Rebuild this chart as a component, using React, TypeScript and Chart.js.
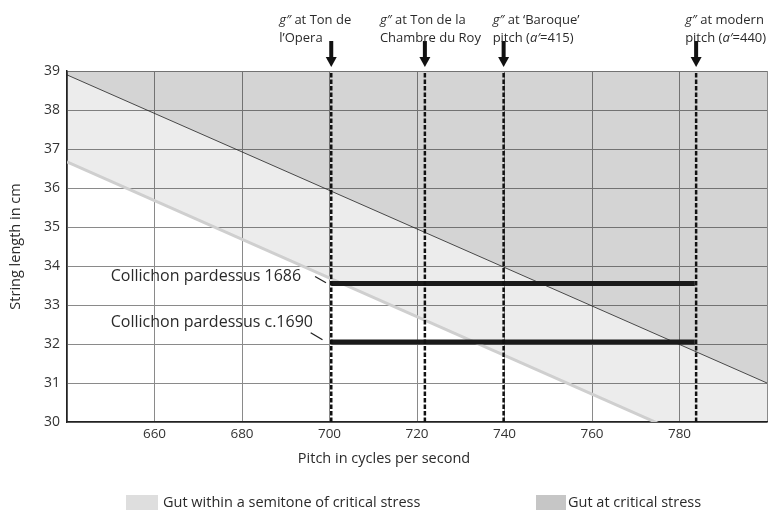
import React, { useEffect, useRef } from "react";
import { Chart, registerables } from "chart.js";

Chart.register(...registerables);

// ---------- data ----------
const xRange = [640, 800];
const yRange = [30, 39];
const xTickValues = [660, 680, 700, 720, 740, 760, 780];
const yTickValues = [30, 31, 32, 33, 34, 35, 36, 37, 38, 39];

// boundary of "gut at critical stress" (string length vs pitch)
const criticalX = [640, 800];
const criticalY = [38.9, 31.0];
// boundary of "within a semitone of critical stress"
const semitoneX = [640, 800];
const semitoneY = [36.67, 28.73];

// reference pitches of g''
const pitchValues = [700.4, 721.8, 739.8, 783.8];
const pitchLabels = [
  ["*g″* at Ton de", "l’Opera"],
  ["*g″* at Ton de la", "Chambre du Roy"],
  ["*g″* at ‘Baroque’", "pitch (*a′*=415)"],
  ["*g″* at modern", "pitch (*a′*=440)"],
];

// instruments
const stringLabels = ["Collichon pardessus 1686", "Collichon pardessus c.1690"];
const stringLengths = [33.55, 32.05];
const stringFrom = [700.4, 700.4];
const stringTo = [783.5, 783.5];
const leaderX = [
  [696.7, 699.2],
  [695.7, 698.4],
];
const leaderY = [
  [33.73, 33.57],
  [32.29, 32.11],
];
const labelAtX = [650, 650];
const labelAtY = [33.72, 32.55];

const legendLabels = ["Gut within a semitone of critical stress", "Gut at critical stress"];

const xTitle = "Pitch in cycles per second";
const yTitle = "String length in cm";

// ---------- styles ----------
const FONT = "'Open Sans', 'Noto Sans', sans-serif";
const TEXT = "#2a2a2a";
const GRID = "#8a8a8a";
const DARK_FILL = "rgba(0,0,0,0.17)";
const LIGHT_FILL = "rgba(0,0,0,0.075)";
const SWATCH_LIGHT = "#dedede";
const SWATCH_DARK = "#c6c6c6";
const annotationOffsets = [-52, -45, -11, -11];

function drawRich(ctx: CanvasRenderingContext2D, text: string, x: number, y: number, size: number) {
  const parts = text.split("*");
  let cx = x;
  parts.forEach((p, i) => {
    if (!p) return;
    ctx.font = `${i % 2 === 1 ? "italic " : ""}${size}px ${FONT}`;
    ctx.fillText(p, cx, y);
    cx += ctx.measureText(p).width;
  });
}

const overlayPlugin = {
  id: "overlay",
  afterDraw(chart: any) {
    const { ctx, chartArea, scales } = chart;
    const xs = scales.x;
    const ys = scales.y;
    ctx.save();
    ctx.fillStyle = "#111";
    // arrows above dashed lines
    pitchValues.forEach((v) => {
      const px = xs.getPixelForValue(v);
      const top = chartArea.top;
      ctx.fillRect(px - 2, top - 30, 4, 17);
      ctx.beginPath();
      ctx.moveTo(px - 5.5, top - 14);
      ctx.lineTo(px + 5.5, top - 14);
      ctx.lineTo(px, top - 4);
      ctx.closePath();
      ctx.fill();
    });
    // annotation labels
    ctx.fillStyle = TEXT;
    ctx.textBaseline = "middle";
    ctx.textAlign = "left";
    pitchLabels.forEach((lines, i) => {
      const px = xs.getPixelForValue(pitchValues[i]) + annotationOffsets[i];
      lines.forEach((ln, j) => drawRich(ctx, ln, px, 20 + j * 18, 13));
    });
    // instrument labels
    stringLabels.forEach((s, i) => {
      ctx.font = `16px ${FONT}`;
      ctx.fillText(s, xs.getPixelForValue(labelAtX[i]), ys.getPixelForValue(labelAtY[i]));
    });
    // axis titles
    ctx.font = `14.5px ${FONT}`;
    ctx.textAlign = "center";
    ctx.fillText(xTitle, 384, 459);
    ctx.save();
    ctx.translate(16, (chartArea.top + chartArea.bottom) / 2);
    ctx.rotate(-Math.PI / 2);
    ctx.fillText(yTitle, 0, 0);
    ctx.restore();
    // legend
    ctx.textAlign = "left";
    ctx.font = `14.5px ${FONT}`;
    ctx.fillStyle = SWATCH_LIGHT;
    ctx.fillRect(126, 495, 32, 15);
    ctx.fillStyle = SWATCH_DARK;
    ctx.fillRect(536, 495, 30, 15);
    ctx.fillStyle = TEXT;
    ctx.fillText(legendLabels[0], 163, 503);
    ctx.fillText(legendLabels[1], 568, 503);
    ctx.restore();
  },
};

export default function App() {
  const ref = useRef<HTMLCanvasElement>(null);
  useEffect(() => {
    if (!ref.current) return;
    const datasets: any[] = [];
    // critical stress line, fill above
    datasets.push({
      data: criticalX.map((x, i) => ({ x, y: criticalY[i] })),
      borderColor: "#222",
      borderWidth: 0.8,
      backgroundColor: DARK_FILL,
      fill: "end",
      pointRadius: 0,
      order: 10,
    });
    // semitone line, fill up to critical line
    datasets.push({
      data: semitoneX.map((x, i) => ({ x, y: semitoneY[i] })),
      borderColor: "#cfcfcf",
      borderWidth: 3,
      backgroundColor: LIGHT_FILL,
      fill: 0,
      pointRadius: 0,
      order: 9,
    });
    // instrument bars
    stringLengths.forEach((len, i) => {
      datasets.push({
        data: [
          { x: stringFrom[i], y: len },
          { x: stringTo[i], y: len },
        ],
        borderColor: "#1a1a1a",
        borderWidth: 5,
        borderCapStyle: "butt",
        pointRadius: 0,
        fill: false,
        order: 2,
      });
      datasets.push({
        data: leaderX[i].map((x, k) => ({ x, y: leaderY[i][k] })),
        borderColor: "#222",
        borderWidth: 1.3,
        pointRadius: 0,
        fill: false,
        order: 2,
      });
    });
    // dashed pitch lines
    pitchValues.forEach((v) => {
      datasets.push({
        data: [
          { x: v, y: yRange[0] },
          { x: v, y: yRange[1] },
        ],
        borderColor: "#111",
        borderWidth: 2.5,
        borderDash: [4.5, 2],
        pointRadius: 0,
        fill: false,
        order: 1,
      });
    });

    const chart = new Chart(ref.current, {
      type: "line",
      data: { datasets },
      options: {
        animation: false,
        responsive: false,
        maintainAspectRatio: false,
        layout: { padding: { top: 71, right: 5, left: 0, bottom: 0 } },
        plugins: { legend: { display: false }, tooltip: { enabled: false } },
        scales: {
          x: {
            type: "linear",
            min: xRange[0],
            max: xRange[1],
            ticks: {
              stepSize: 20,
              autoSkip: false,
              maxRotation: 0,
              padding: 4,
              color: "#333",
              font: { family: FONT, size: 13.5 },
              callback: (v: any) => (xTickValues.includes(Number(v)) ? String(v) : ""),
            },
            grid: { color: GRID, lineWidth: 1, drawTicks: false },
            border: { color: "#222", width: 1.5 },
            afterFit: (s: any) => {
              s.height = 89;
            },
          },
          y: {
            type: "linear",
            min: yRange[0],
            max: yRange[1],
            afterBuildTicks: (s: any) => {
              s.ticks = yTickValues.map((value) => ({ value }));
            },
            ticks: {
              padding: 7,
              color: "#333",
              font: { family: FONT, size: 14 },
            },
            grid: { color: GRID, lineWidth: 1, drawTicks: false },
            border: { color: "#222", width: 1.5 },
            afterFit: (s: any) => {
              s.width = 67;
            },
          },
        },
      },
      plugins: [overlayPlugin],
    });
    return () => chart.destroy();
  }, []);
  return (
    <div style={{ position: "absolute", left: 0, top: 0, width: 772, height: 511, background: "#fff" }}>
      <canvas ref={ref} width={772} height={511} style={{ display: "block" }} />
    </div>
  );
}
